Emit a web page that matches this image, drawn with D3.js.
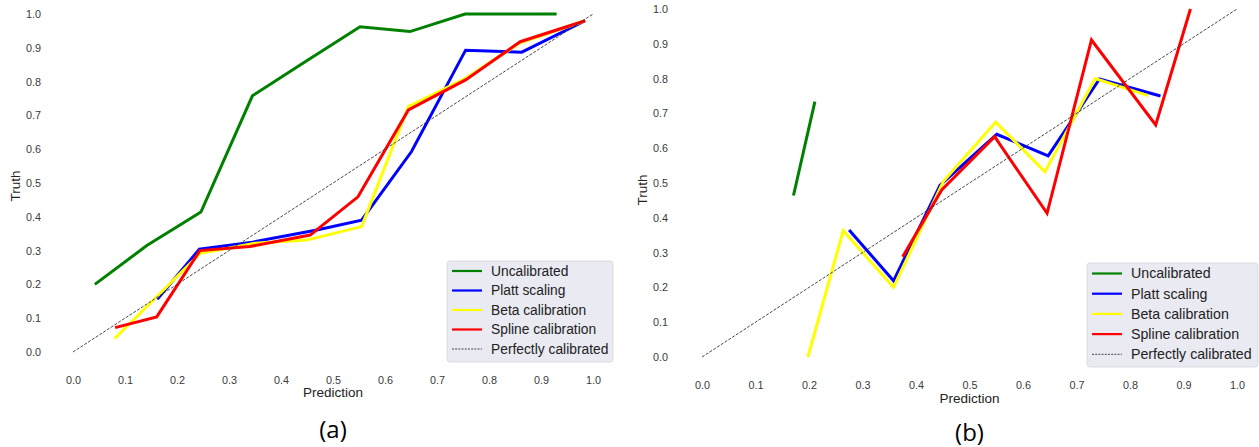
<!DOCTYPE html>
<html>
<head>
<meta charset="utf-8">
<script src="https://cdn.jsdelivr.net/npm/d3@7"></script>
<style>
  html, body { margin: 0; padding: 0; background: #ffffff; }
  svg { display: block; font-family: "Liberation Sans", Arial, sans-serif; }
</style>
</head>
<body>
<svg id="chart" width="1259" height="447"></svg>
<script>
// ---- Reliability curves, panel (a) ----
const uncalA_x  = [0.042, 0.142, 0.246, 0.345, 0.448, 0.552, 0.648, 0.754, 0.850, 0.930];
const uncalA_y  = [0.200, 0.315, 0.414, 0.758, 0.860, 0.962, 0.948, 1.000, 1.000, 1.000];
const plattA_x  = [0.162, 0.243, 0.345, 0.469, 0.555, 0.651, 0.755, 0.863, 0.985];
const plattA_y  = [0.156, 0.304, 0.325, 0.361, 0.390, 0.593, 0.893, 0.887, 0.980];
const betaA_x   = [0.080, 0.162, 0.245, 0.350, 0.449, 0.555, 0.645, 0.755, 0.860, 0.985];
const betaA_y   = [0.040, 0.165, 0.292, 0.322, 0.331, 0.371, 0.726, 0.810, 0.915, 0.980];
const splineA_x = [0.081, 0.161, 0.244, 0.340, 0.456, 0.548, 0.645, 0.755, 0.860, 0.985];
const splineA_y = [0.072, 0.104, 0.300, 0.312, 0.346, 0.459, 0.716, 0.805, 0.918, 0.980];

// ---- Reliability curves, panel (b) ----
const uncalB_x  = [0.171, 0.211];
const uncalB_y  = [0.464, 0.734];
const plattB_x  = [0.275, 0.358, 0.445, 0.551, 0.647, 0.743, 0.857];
const plattB_y  = [0.365, 0.219, 0.494, 0.640, 0.578, 0.799, 0.750];
const betaB_x   = [0.198, 0.264, 0.358, 0.451, 0.549, 0.641, 0.735, 0.834];
const betaB_y   = [0.000, 0.363, 0.200, 0.504, 0.675, 0.532, 0.800, 0.751];
const splineB_x = [0.375, 0.448, 0.547, 0.645, 0.728, 0.848, 0.913];
const splineB_y = [0.288, 0.480, 0.633, 0.413, 0.911, 0.667, 1.000];

// ---- Shared labels ----
const tickValues   = [0.0, 0.1, 0.2, 0.3, 0.4, 0.5, 0.6, 0.7, 0.8, 0.9, 1.0];
const seriesNames  = ["Uncalibrated", "Platt scaling", "Beta calibration", "Spline calibration"];
const seriesColors = ["#008000", "#0000ff", "#ffff00", "#ff0000"];
const diagonalName = "Perfectly calibrated";
const panelTags    = ["(a)", "(b)"];

const svg = d3.select("#chart");

const panels = [
  {
    tag: panelTags[0],
    box: { left: 73, right: 593, top: 14, bottom: 352 },
    series: [[uncalA_x, uncalA_y], [plattA_x, plattA_y], [betaA_x, betaA_y], [splineA_x, splineA_y]],
    xTickY: 384, yTickX: 41, yTitleX: 20, yTitleY: 186, xTitleY: 397, tagY: 438,
    legend: { x: 447, y: 261, w: 166, h: 101, rowY: 271, rowStep: 19.5, font: 13.8 }
  },
  {
    tag: panelTags[1],
    box: { left: 702, right: 1237, top: 9, bottom: 357 },
    series: [[uncalB_x, uncalB_y], [plattB_x, plattB_y], [betaB_x, betaB_y], [splineB_x, splineB_y]],
    xTickY: 389, yTickX: 668, yTitleX: 647, yTitleY: 190, xTitleY: 403, tagY: 441,
    legend: { x: 1087, y: 263, w: 171, h: 104, rowY: 273.5, rowStep: 20.2, font: 14.2 }
  }
];

panels.forEach(p => {
  const x = d3.scaleLinear().domain([0, 1]).range([p.box.left, p.box.right]);
  const y = d3.scaleLinear().domain([0, 1]).range([p.box.bottom, p.box.top]);
  const g = svg.append("g");

  // tick labels only (no axis lines, no grid)
  const xAxis = d3.axisBottom(x).tickValues(tickValues).tickFormat(d3.format(".1f")).tickSize(0).tickPadding(0);
  const xa = g.append("g").attr("transform", `translate(0,${p.xTickY - 8})`).call(xAxis);
  const yAxis = d3.axisLeft(y).tickValues(tickValues).tickFormat(d3.format(".1f")).tickSize(0).tickPadding(0);
  const ya = g.append("g").attr("transform", `translate(${p.yTickX},0)`).call(yAxis);
  [xa, ya].forEach(a => {
    a.select(".domain").remove();
    a.selectAll("text").attr("fill", "#3a3a3a").style("font-size", "10.8px")
      .style("font-family", "'Liberation Sans', Arial, sans-serif");
  });

  // axis titles
  g.append("text").attr("x", (p.box.left + p.box.right) / 2).attr("y", p.xTitleY)
    .attr("text-anchor", "middle").attr("fill", "#222").style("font-size", "13.5px").text("Prediction");
  g.append("text").attr("transform", `translate(${p.yTitleX},${p.yTitleY}) rotate(-90)`)
    .attr("text-anchor", "middle").attr("fill", "#222").style("font-size", "13.5px").text("Truth");

  // panel tag
  g.append("text").attr("x", (p.box.left + p.box.right) / 2).attr("y", p.tagY)
    .attr("text-anchor", "middle").attr("fill", "#000")
    .style("font-family", "'Open Sans', 'Noto Sans', sans-serif").style("font-size", "24px").text(p.tag);

  // curves
  const line = d3.line().x(d => x(d[0])).y(d => y(d[1]));
  p.series.forEach((s, i) => {
    const pts = s[0].map((v, k) => [v, s[1][k]]);
    g.append("path").datum(pts).attr("d", line)
      .attr("fill", "none").attr("stroke", seriesColors[i]).attr("stroke-width", 3)
      .attr("stroke-linejoin", "miter");
  });

  // perfectly calibrated diagonal
  g.append("path").datum([[0, 0], [1, 1]]).attr("d", line)
    .attr("fill", "none").attr("stroke", "#333").attr("stroke-width", 0.9)
    .attr("stroke-dasharray", "3,1.5");

  // legend
  const L = p.legend;
  const lg = g.append("g");
  lg.append("rect").attr("x", L.x).attr("y", L.y).attr("width", L.w).attr("height", L.h)
    .attr("rx", 3).attr("fill", "#eaeaf2").attr("stroke", "#d5d5dc").attr("stroke-width", 0.8);
  const labels = seriesNames.concat([diagonalName]);
  labels.forEach((name, i) => {
    const ry = L.rowY + i * L.rowStep;
    const ln = lg.append("line").attr("x1", L.x + 5).attr("x2", L.x + 35).attr("y1", ry).attr("y2", ry);
    if (i < seriesNames.length) {
      ln.attr("stroke", seriesColors[i]).attr("stroke-width", 2.2);
    } else {
      ln.attr("stroke", "#333").attr("stroke-width", 0.9).attr("stroke-dasharray", "2,1.2");
    }
    lg.append("text").attr("x", L.x + 44).attr("y", ry).attr("dy", "0.35em")
      .attr("fill", "#222").style("font-size", L.font + "px").text(name);
  });
});
</script>
</body>
</html>
